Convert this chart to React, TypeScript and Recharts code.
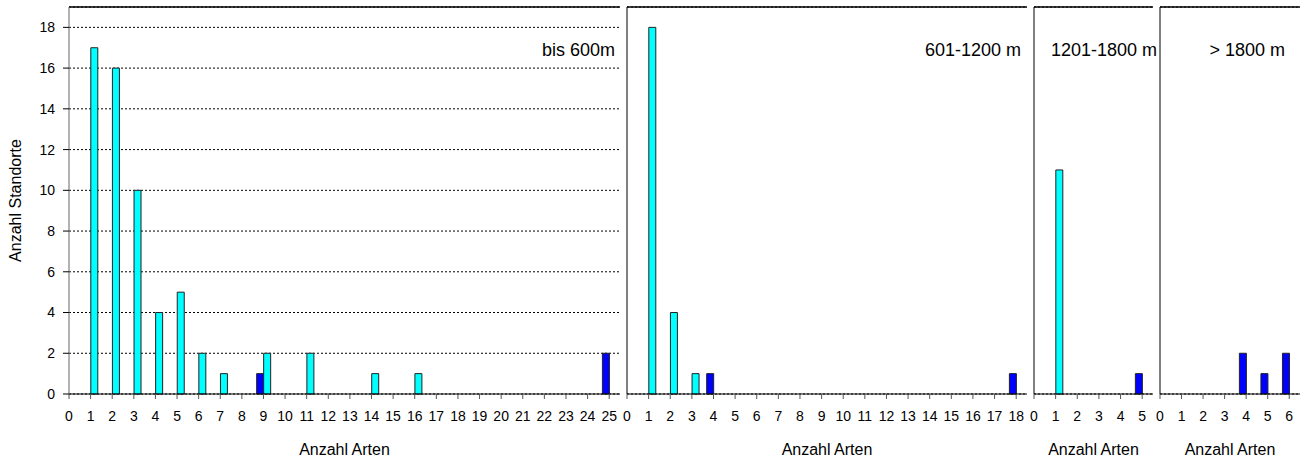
import React from 'react';
import {
  BarChart,
  Bar,
  XAxis,
  YAxis,
  CartesianGrid,
  ReferenceLine,
  Label,
} from 'recharts';

// Anzahl Arten (x categories) per Höhenstufe
const arten600 = [0, 1, 2, 3, 4, 5, 6, 7, 8, 9, 10, 11, 12, 13, 14, 15, 16, 17, 18, 19, 20, 21, 22, 23, 24, 25];
const arten1200 = [0, 1, 2, 3, 4, 5, 6, 7, 8, 9, 10, 11, 12, 13, 14, 15, 16, 17, 18];
const arten1800 = [0, 1, 2, 3, 4, 5];
const artenUeber1800 = [0, 1, 2, 3, 4, 5, 6];

// Anzahl Standorte, hellblau (cyan) und dunkelblau
const cyan600 = [0, 17, 16, 10, 4, 5, 2, 1, 0, 2, 0, 2, 0, 0, 1, 0, 1, 0, 0, 0, 0, 0, 0, 0, 0, 0];
const blue600 = [0, 0, 0, 0, 0, 0, 0, 0, 0, 1, 0, 0, 0, 0, 0, 0, 0, 0, 0, 0, 0, 0, 0, 0, 0, 2];
const cyan1200 = [0, 18, 4, 1, 0, 0, 0, 0, 0, 0, 0, 0, 0, 0, 0, 0, 0, 0, 0];
const blue1200 = [0, 0, 0, 0, 1, 0, 0, 0, 0, 0, 0, 0, 0, 0, 0, 0, 0, 0, 1];
const cyan1800 = [0, 11, 0, 0, 0, 0];
const blue1800 = [0, 0, 0, 0, 0, 1];
const cyanUeber1800 = [0, 0, 0, 0, 0, 0, 0];
const blueUeber1800 = [0, 0, 0, 0, 2, 1, 2];

const yTicks = [0, 2, 4, 6, 8, 10, 12, 14, 16, 18];

const FONT = "Arial, 'Liberation Sans', sans-serif";
const CHART_H = 459;

const toRows = (xs: number[], blue: number[], cyan: number[]) =>
  xs.map((x, i) => ({
    x,
    blue: blue[i] ? blue[i] : null,
    cyan: cyan[i] ? cyan[i] : null,
  }));

interface PanelProps {
  left: number;
  width: number;
  yAxisWidth: number;
  xs: number[];
  blue: number[];
  cyan: number[];
  showYLabels?: boolean;
}

const YTitle = ({ viewBox }: any) => {
  const cx = 15;
  const cy = viewBox.y + viewBox.height / 2;
  return (
    <text
      x={cx}
      y={cy}
      transform={`rotate(-90 ${cx} ${cy})`}
      textAnchor="middle"
      dominantBaseline="central"
      fontSize={16}
      fontFamily={FONT}
      fill="#000"
    >
      Anzahl Standorte
    </text>
  );
};

const Panel = ({ left, width, yAxisWidth, xs, blue, cyan, showYLabels }: PanelProps) => {
  const data = toRows(xs, blue, cyan);
  const maxX = xs[xs.length - 1] + 0.5;
  return (
    <div style={{ position: 'absolute', left, top: 0 }}>
      <BarChart
        width={width}
        height={CHART_H}
        data={data}
        margin={{ top: 7, right: 0, bottom: 0, left: 0 }}
        barGap={0}
        barCategoryGap={0}
      >
        <CartesianGrid horizontal vertical={false} stroke="#000" strokeDasharray="2 2" />
        <XAxis
          dataKey="x"
          type="number"
          domain={[0, maxX]}
          ticks={xs}
          interval={0}
          height={65}
          stroke="#000"
          tickSize={5}
          tickMargin={12}
          tick={{ fontSize: 14, fill: '#000', fontFamily: FONT }}
          tickLine={{ stroke: '#555' }}
        >
          <Label
            value="Anzahl Arten"
            position="insideBottom"
            offset={4}
            style={{ fontSize: 16, fill: '#000', fontFamily: FONT }}
          />
        </XAxis>
        <YAxis
          type="number"
          domain={[0, 19]}
          ticks={yTicks}
          width={yAxisWidth}
          stroke={showYLabels ? '#666' : '#000'}
          tickSize={6}
          tickMargin={8}
          tickLine={{ stroke: '#000' }}
          tick={showYLabels ? { fontSize: 14, fill: '#000', fontFamily: FONT } : false}
        >
          {showYLabels && <Label content={<YTitle />} />}
        </YAxis>
        <ReferenceLine y={19} stroke="#000" strokeWidth={1.5} ifOverflow="extendDomain" />
        <Bar dataKey="blue" barSize={7} fill="#0000ff" stroke="#222" strokeWidth={1} isAnimationActive={false} />
        <Bar dataKey="cyan" barSize={7} fill="#00ffff" stroke="#222" strokeWidth={1} isAnimationActive={false} />
      </BarChart>
    </div>
  );
};

const titles = [
  { text: 'bis 600m', x: 615 },
  { text: '601-1200 m', x: 1021 },
  { text: '1201-1800 m', x: 1157 },
  { text: '> 1800 m', x: 1285 },
];

export default function App() {
  return (
    <div
      style={{
        position: 'absolute',
        left: 0,
        top: 0,
        width: 1301,
        height: CHART_H,
        background: '#fff',
        fontFamily: FONT,
      }}
    >
      <Panel left={0} width={620} yAxisWidth={69} xs={arten600} blue={blue600} cyan={cyan600} showYLabels />
      <Panel left={620} width={407} yAxisWidth={7} xs={arten1200} blue={blue1200} cyan={cyan1200} />
      <Panel left={1027} width={126} yAxisWidth={7} xs={arten1800} blue={blue1800} cyan={cyan1800} />
      <Panel left={1153} width={147} yAxisWidth={7} xs={artenUeber1800} blue={blueUeber1800} cyan={cyanUeber1800} />
      <svg
        width={1301}
        height={CHART_H}
        style={{ position: 'absolute', left: 0, top: 0, pointerEvents: 'none' }}
      >
        {titles.map((t) => (
          <text key={t.text} x={t.x} y={56} textAnchor="end" fontSize={18} fontFamily={FONT} fill="#000">
            {t.text}
          </text>
        ))}
      </svg>
    </div>
  );
}
